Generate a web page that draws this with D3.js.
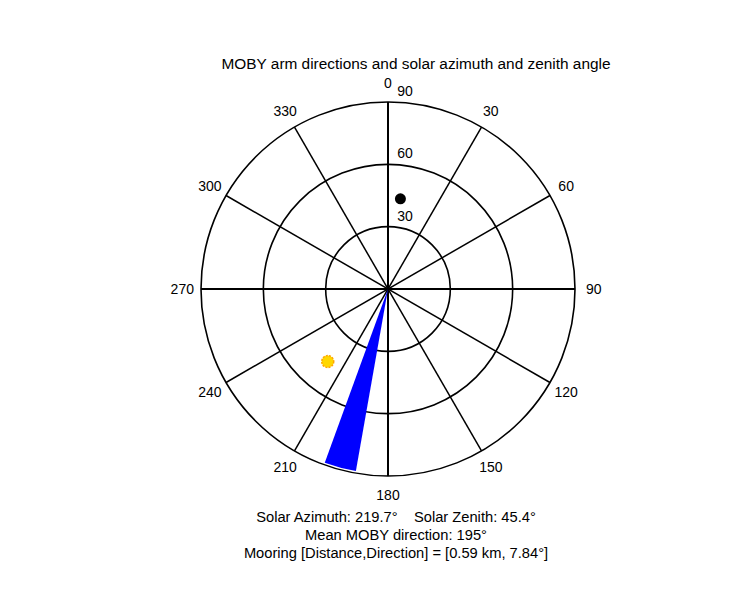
<!DOCTYPE html>
<html><head><meta charset="utf-8">
<script src="https://cdn.jsdelivr.net/npm/d3@7"></script>
<style>body{margin:0;background:#fff}text{font-family:Arial,"Liberation Sans",sans-serif;font-size:14px;fill:#000;white-space:pre}</style>
</head><body>
<svg id="chart" width="750" height="600"></svg>
<script>
const spokeAngles = [0, 30, 60, 90, 120, 150, 180, 210, 240, 270, 300, 330];
const ringValues = [30, 60, 90];
const armWedge = [190, 200, 89];      // start az, end az, radius (deg)
const solarAz = 219.7, solarZen = 45.4;
const moobyMark = [7.84, 43.8];       // direction, radial value
const infoLines = [
  "Solar Azimuth: 219.7\u00B0    Solar Zenith: 45.4\u00B0",
  "Mean MOBY direction: 195\u00B0",
  "Mooring [Distance,Direction] = [0.59 km, 7.84\u00B0]"
];

const cx = 388, cy = 289;
const r = d3.scaleLinear().domain([0, 90]).range([0, 187]);
const rad = a => a * Math.PI / 180;
const pt = (az, v) => [cx + r(v) * Math.sin(rad(az)), cy - r(v) * Math.cos(rad(az))];
const svg = d3.select("#chart");

svg.append("text").attr("x", 416).attr("y", 69).attr("text-anchor", "middle")
  .style("font-size", "15.4px")
  .text("MOBY arm directions and solar azimuth and zenith angle");

svg.selectAll(".ring").data(ringValues).enter().append("circle")
  .attr("cx", cx).attr("cy", cy).attr("r", d => r(d))
  .attr("fill", "none").attr("stroke", "#000").attr("stroke-width", 1.6);

svg.selectAll(".spoke").data(spokeAngles.filter(a => a < 180)).enter().append("line")
  .attr("x1", d => pt(d, 90)[0]).attr("y1", d => pt(d, 90)[1])
  .attr("x2", d => pt(d + 180, 90)[0]).attr("y2", d => pt(d + 180, 90)[1])
  .attr("stroke", "#000").attr("stroke-width", d => d % 90 === 0 ? 2 : 1.5);

svg.selectAll(".alab").data(spokeAngles).enter().append("text")
  .attr("x", d => pt(d, 99)[0]).attr("y", d => pt(d, 99)[1] + 5)
  .attr("text-anchor", "middle").text(d => d);

svg.selectAll(".rlab").data(ringValues).enter().append("text")
  .attr("x", cx + 17).attr("y", d => cy - r(d) - 6)
  .attr("text-anchor", "middle").text(d => d);

const arc = d3.arc().innerRadius(0).outerRadius(r(armWedge[2]))
  .startAngle(rad(armWedge[0])).endAngle(rad(armWedge[1]));
svg.append("path").attr("d", arc()).attr("transform", `translate(${cx},${cy})`)
  .attr("fill", "#0000ff");

const m = pt(moobyMark[0], moobyMark[1]);
svg.append("circle").attr("cx", m[0]).attr("cy", m[1]).attr("r", 5.5).attr("fill", "#000");

const s = pt(solarAz, solarZen);
svg.append("circle").attr("cx", s[0]).attr("cy", s[1]).attr("r", 6)
  .attr("fill", "#ffd700").attr("stroke", "#ffa500").attr("stroke-width", 1.5)
  .attr("stroke-dasharray", "2,1.2");

svg.selectAll(".info").data(infoLines).enter().append("text")
  .attr("x", 396).attr("y", (d, i) => 522 + i * 18)
  .attr("text-anchor", "middle").style("font-size", "14.7px").text(d => d);
</script>
</body></html>
